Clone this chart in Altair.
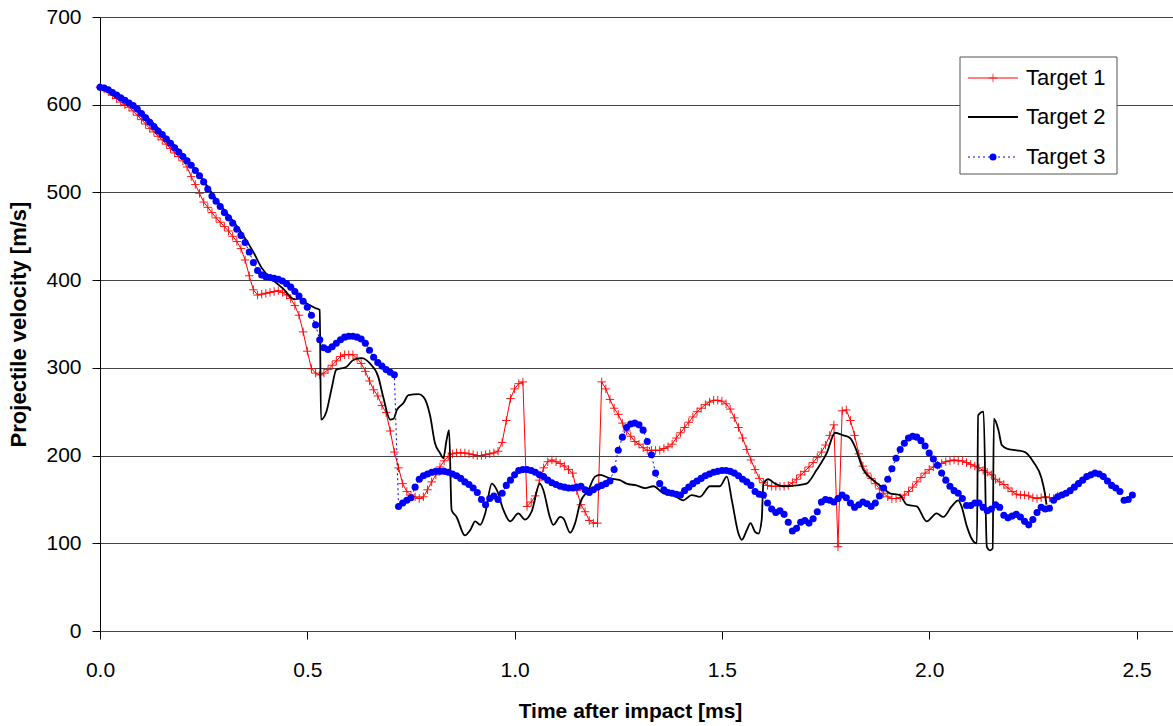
import altair as alt
import pandas as pd

# Sampling interval of the measured series (ms)
DT = 0.01

# Target 1: velocity (m/s) sampled every DT from t = 0
target1_v = [
    620, 618, 615, 611, 607, 603, 600, 597, 593, 588,
    583, 578, 573, 569, 564, 560, 555, 550, 545, 541,
    536, 529, 518, 509, 499, 489, 483, 477, 471, 466,
    461, 456, 450, 444, 436, 423, 405, 389, 383, 384,
    385, 386, 387, 388, 386, 383, 379, 371, 360, 341,
    319, 299, 294, 292, 294, 298, 303, 308, 313, 315,
    315, 315, 311, 305, 296, 285, 275, 268, 257, 249,
    228, 204, 186, 168, 159, 155, 153, 151, 153, 161,
    170, 178, 187, 194, 199, 202, 203, 203, 203, 202,
    201, 200, 200, 201, 202, 203, 205, 215, 240, 265,
    276, 282, 284, 142, 147, 154, 172, 186, 193, 195,
    193, 191, 188, 184, 180, 160, 144, 136, 126, 123,
    123, 284, 276, 264, 254, 247, 237, 228, 222, 216,
    213, 209, 206, 206, 206, 206, 208, 210, 213, 220,
    226, 232, 238, 244, 250, 254, 258, 261, 263, 263,
    262, 259, 253, 243, 232, 220, 207, 195, 184, 174,
    169, 166, 165, 165, 165, 165, 166, 169, 173, 178,
    182, 187, 192, 198, 204, 212, 223, 235, 96, 251,
    252, 240, 223, 202, 188, 180, 174, 168, 162, 157,
    153, 151, 151, 152, 155, 159, 164, 170, 175, 180,
    184, 187, 189, 191, 193, 194, 195, 194, 194, 192,
    190, 188, 186, 183, 181, 178, 173, 170, 167, 163,
    159, 156, 155, 155, 154, 152, 151, 152, 153, 152,
    151, 154,
]

# Target 3: velocity (m/s) sampled every DT from t = 0
target3_v = [
    620, 619, 617, 614, 611, 608, 605, 602, 599, 595,
    590, 585, 580, 575, 570, 566, 561, 556, 551, 546,
    541, 536, 531, 525, 519, 512, 504, 496, 490, 484,
    477, 471, 465, 458, 451, 443, 432, 420, 411, 406,
    404, 403, 402, 401, 399, 396, 392, 387, 382, 376,
    369, 360, 349, 332, 323, 321, 324, 328, 332, 335,
    336, 336, 335, 333, 328, 320, 312, 306, 302, 298,
    295, 292, 142, 146, 149, 152, 164, 173, 177, 179,
    181, 182, 182, 182, 181, 179, 177, 174, 170, 167,
    163, 158, 150, 144, 151, 154, 150, 157, 166, 172,
    178, 183, 184, 184, 183, 181, 178, 176, 172, 169,
    167, 165, 164, 163, 163, 164, 165, 161, 158, 161,
    164, 166, 168, 171, 184, 206, 221, 232, 236, 237,
    235, 229, 216, 201, 180, 168, 161, 158, 157, 156,
    155, 160, 164, 168, 171, 174, 177, 179, 181, 182,
    183, 183, 182, 180, 177, 173, 170, 166, 159, 156,
    155, 146, 139, 135, 137, 133, 124, 114, 117, 124,
    126, 123, 128, 136, 147, 150, 149, 147, 151, 155,
    152, 146, 141, 144, 147, 145, 142, 146, 154, 163,
    173, 185, 197, 207, 214, 220, 222, 221, 217, 211,
    203, 196, 189, 180, 172, 165, 160, 157, 151, 143,
    143, 146, 146, 141, 137, 139, 144, 141, 132, 129,
    131, 133, 130, 125, 121, 127, 135, 141, 139, 140,
    149, 153, 155, 157, 160, 164, 168, 172, 176, 178,
    180, 179, 176, 171, 166, 163, 159, 149, 150, 155,
]

# Target 2: irregularly read points (time in ms, velocity in m/s)
target2_t = [
    0.00, 0.05, 0.10, 0.15, 0.20, 0.25, 0.29, 0.31, 0.34, 0.37,
    0.39, 0.42, 0.44, 0.47, 0.48, 0.50, 0.52, 0.53, 0.533, 0.546,
    0.558, 0.570, 0.594, 0.611, 0.631, 0.651, 0.671, 0.683, 0.700, 0.708,
    0.716, 0.732, 0.744, 0.768, 0.780, 0.796, 0.808, 0.820, 0.828, 0.836,
    0.842, 0.848, 0.860, 0.880, 0.893, 0.905, 0.917, 0.929, 0.945, 0.957,
    0.973, 0.989, 1.009, 1.025, 1.041, 1.061, 1.069, 1.085, 1.093, 1.110,
    1.118, 1.134, 1.146, 1.158, 1.178, 1.194, 1.206, 1.230, 1.254, 1.270,
    1.294, 1.315, 1.335, 1.359, 1.383, 1.407, 1.427, 1.447, 1.471, 1.495,
    1.512, 1.524, 1.540, 1.548, 1.560, 1.569, 1.580, 1.588, 1.596, 1.600,
    1.612, 1.628, 1.648, 1.680, 1.704, 1.729, 1.753, 1.773, 1.793, 1.809,
    1.821, 1.841, 1.865, 1.889, 1.905, 1.929, 1.946, 1.970, 1.994, 2.018,
    2.034, 2.054, 2.070, 2.078, 2.091, 2.107, 2.115, 2.118, 2.131, 2.139,
    2.147, 2.153, 2.156, 2.167, 2.175, 2.187, 2.211, 2.231, 2.251, 2.271,
    2.279, 2.283,
]
target2_v = [
    620, 610, 592, 568, 543, 513, 486, 474, 455, 432,
    414, 399, 391, 378, 379, 373, 368, 366, 241, 250,
    275, 298, 301, 309, 311, 305, 290, 267, 241, 242,
    252, 260, 269, 270, 267, 246, 214, 203, 197, 218,
    229, 138, 130, 109, 115, 125, 121, 134, 168, 161,
    138, 125, 134, 127, 136, 168, 161, 130, 121, 130,
    128, 112, 123, 146, 161, 176, 178, 174, 172, 168,
    166, 163, 165, 157, 155, 149, 155, 153, 165, 165,
    176, 149, 111, 104, 115, 123, 113, 111, 127, 168,
    173, 168, 165, 166, 168, 184, 203, 226, 223, 220,
    210, 184, 172, 163, 157, 155, 144, 142, 125, 134,
    130, 142, 149, 142, 119, 102, 100, 246, 250, 96,
    92, 94, 242, 229, 212, 208, 206, 204, 193, 174,
    157, 144,
]

series_names = ["Target 1", "Target 2", "Target 3"]
x_ticks = [0.0, 0.5, 1.0, 1.5, 2.0, 2.5]
y_ticks = [0, 100, 200, 300, 400, 500, 600, 700]

df1 = pd.DataFrame({"t": [round(i * DT, 2) for i in range(len(target1_v))], "v": target1_v})
df2 = pd.DataFrame({"t": target2_t, "v": target2_v})
df3 = pd.DataFrame({"t": [round(i * DT, 2) for i in range(len(target3_v))], "v": target3_v})

FONT = "Liberation Sans"
PLUS = "M-1,0H1M0,-1V1"
DOT_SIZE = 50

W, H = 1073, 614
x_scale = alt.Scale(domain=[0, 2.588], nice=False, zero=False)
y_scale = alt.Scale(domain=[0, 700], nice=False)

x_enc = alt.X(
    "t:Q", scale=x_scale,
    axis=alt.Axis(
        title="Time after impact [ms]", values=x_ticks, format=".1f",
        grid=False, tickSize=8, labelPadding=20, labelFontSize=21,
        labelFont=FONT, labelColor="#000", titleFont=FONT, titleFontSize=21,
        titleFontWeight="bold", titleColor="#000", titlePadding=20,
        titleX=530, domainColor="#444", tickColor="#000", labelFlush=False,
    ),
)
y_enc = alt.Y(
    "v:Q", scale=y_scale,
    axis=alt.Axis(
        title="Projectile velocity [m/s]", values=y_ticks, format="d",
        grid=True, gridColor="#444", gridWidth=1, tickSize=8, labelPadding=11,
        labelFontSize=21, labelFont=FONT, labelColor="#000", titleFont=FONT,
        titleFontSize=22, titleFontWeight="bold", titleColor="#000",
        titlePadding=15, domainColor="#000", tickColor="#000",
    ),
)

t1_line = alt.Chart(df1).mark_line(color="#ff0000", strokeWidth=1).encode(x=x_enc, y=y_enc)
t1_pts = alt.Chart(df1).mark_point(
    shape=PLUS, filled=False, color="#ff0000", size=72, strokeWidth=1, opacity=0.9
).encode(x="t:Q", y="v:Q")
t2_line = alt.Chart(df2).mark_line(color="#000000", strokeWidth=1.8, interpolate="monotone").encode(x="t:Q", y="v:Q")
t3_line = alt.Chart(df3).mark_line(color="#0000ff", strokeWidth=1, strokeDash=[2, 3]).encode(x="t:Q", y="v:Q")
t3_pts = alt.Chart(df3).mark_circle(color="#0000ff", size=DOT_SIZE, opacity=1).encode(x="t:Q", y="v:Q")

# Legend box drawn in plot coordinates
one = pd.DataFrame({"k": [0]})
box = alt.Chart(one).mark_rect(fill="white", stroke="#555", strokeWidth=1).encode(
    x=alt.value(860), x2=alt.value(1017), y=alt.value(40), y2=alt.value(157)
)
legend_rows = [61, 100, 140]
leg = []
# Target 1 entry
leg.append(alt.Chart(one).mark_rule(color="#ff0000", strokeWidth=1).encode(
    x=alt.value(868), x2=alt.value(918), y=alt.value(legend_rows[0])))
leg.append(alt.Chart(one).mark_point(shape=PLUS, filled=False, color="#ff0000", size=72, strokeWidth=1).encode(
    x=alt.value(893), y=alt.value(legend_rows[0])))
# Target 2 entry
leg.append(alt.Chart(one).mark_rule(color="#000000", strokeWidth=1.8).encode(
    x=alt.value(868), x2=alt.value(918), y=alt.value(legend_rows[1])))
# Target 3 entry
leg.append(alt.Chart(one).mark_rule(color="#0000ff", strokeWidth=1, strokeDash=[2, 3]).encode(
    x=alt.value(868), x2=alt.value(918), y=alt.value(legend_rows[2])))
leg.append(alt.Chart(one).mark_circle(color="#0000ff", size=DOT_SIZE, opacity=1).encode(
    x=alt.value(893), y=alt.value(legend_rows[2])))
for name, yy in zip(series_names, legend_rows):
    leg.append(alt.Chart(one).mark_text(
        text=name, font=FONT, fontSize=22, align="left", baseline="middle", color="#000"
    ).encode(x=alt.value(926), y=alt.value(yy)))

chart = alt.layer(t1_line, t1_pts, t2_line, t3_line, t3_pts, box, *leg).properties(
    width=W, height=H,
    padding={"left": 100, "top": 17, "right": 0, "bottom": 95},
    autosize=alt.AutoSizeParams(type="none"),
    background="white",
).configure_view(stroke=None)

chart.save("out.html", embed_options={"renderer": "svg", "actions": False})
